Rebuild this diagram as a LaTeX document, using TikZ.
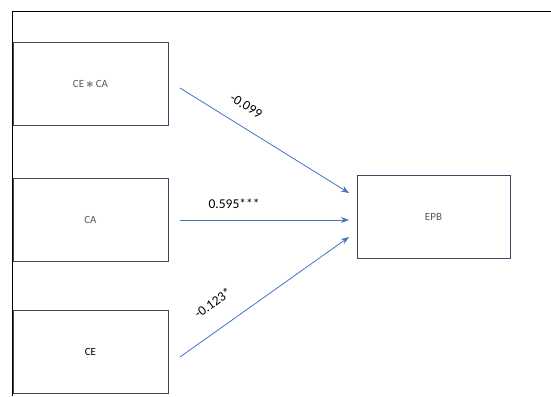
\documentclass[tikz,border=0pt]{standalone}
\usepackage{fontspec}
\setmainfont{Carlito}
\newfontfamily\symfont{DejaVu Sans}
\usetikzlibrary{arrows.meta}
\definecolor{boxline}{HTML}{3A4862}
\definecolor{pathblue}{HTML}{4472C4}
\definecolor{labelgray}{HTML}{595959}
\tikzset{
  varbox/.style={draw=boxline, line width=0.9pt, minimum width=155pt, minimum height=83pt,
    inner sep=0pt, font=\fontsize{11}{13}\selectfont, text=labelgray},
  path arrow/.style={draw=pathblue, line width=0.8pt, -{Stealth[length=8pt,width=6pt]}},
  coef/.style={font=\fontsize{13.5}{15}\selectfont, text=black, inner sep=1pt},
}
\begin{document}
\begin{tikzpicture}[x=1pt, y=-1pt]
  \useasboundingbox (0,0) rectangle (551,396);
  % frame
  \draw[line width=1.5pt] (12.5,396) -- (12.5,11.5) -- (551,11.5);
  % variable boxes
  \node[varbox] (inter) at (90.5,83.5) {CE {\symfont\fontsize{8}{10}\selectfont ✻} CA};
  \node[varbox] (ca) at (90.5,219.5) {CA};
  \node[varbox, text=black] (ce) at (90.5,352) {CE};
  \node[varbox, minimum width=153pt] (epb) at (433.5,216.5) {EPB};
  % start and end points of the paths
  \coordinate (s1) at (180,88);
  \coordinate (s2) at (180,220);
  \coordinate (s3) at (180,357);
  \coordinate (t1) at (349,193);
  \coordinate (t2) at (349,220);
  \coordinate (t3) at (349,237);
  \draw[path arrow] (s1) -- node[coef, sloped, pos=0.33, above=14pt] {-0.099} (t1);
  \draw[path arrow] (s2) -- node[coef, pos=0.32, above=10pt] {0.595***} (t2);
  \draw[path arrow] (s3) -- node[coef, sloped, pos=0.28, above=19pt] {-0.123*} (t3);
\end{tikzpicture}
\end{document}
